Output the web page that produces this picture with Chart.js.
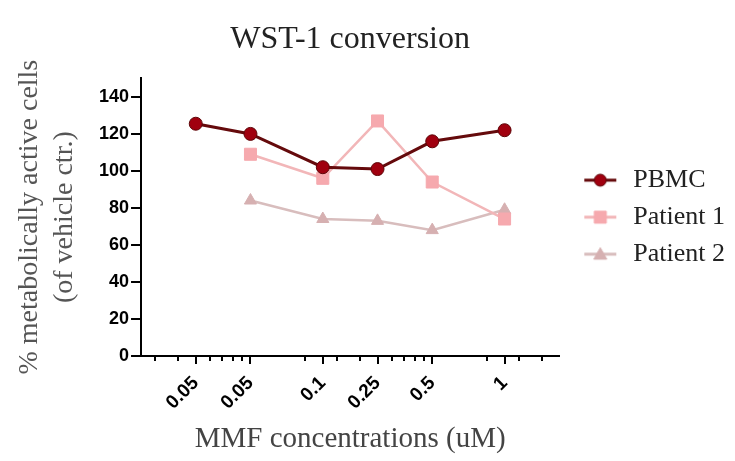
<!DOCTYPE html>
<html lang="en">
<head>
    <meta charset="UTF-8">
    <title>WST-1 conversion</title>
    <script src="https://cdn.jsdelivr.net/npm/chart.js"></script>
    <style>
        html, body { margin: 0; padding: 0; background: #fff; }
        #wrap { width: 735px; height: 461px; }
    </style>
</head>
<body>
    <div id="wrap"><canvas id="wstChart"></canvas></div>

    <script>
        // concentrations as plotted on the log axis, and the labels printed under them
        const doses = [0.05, 0.1, 0.25, 0.5, 1, 2.5];
        const doseLabels = ['0.05', '0.05', '0.1', '0.25', '0.5', '1'];
        const minorDoses = [0.03, 0.04, 0.06, 0.07, 0.08, 0.09, 0.2, 0.3, 0.4, 0.6, 0.7, 0.8, 0.9, 2, 3, 4];
        const yTicks = [0, 20, 40, 60, 80, 100, 120, 140];

        const pbmc = [125.5, 120, 102, 101, 116, 122];
        const patient1 = [null, 109, 96, 127, 94, 74];
        const patient2 = [null, 84, 74, 73, 68, 79];

        function toPoints(values) {
            return values.map((v, i) => ({ x: doses[i], y: v }));
        }

        // legend icon: short line with the marker on it (drawn on the right part of the box)
        function legendIcon(lineColor, fill, stroke, shape) {
            const c = document.createElement('canvas');
            c.width = 46;
            c.height = 18;
            const g = c.getContext('2d');
            g.strokeStyle = lineColor;
            g.lineWidth = 3;
            g.beginPath();
            g.moveTo(12, 9);
            g.lineTo(44, 9);
            g.stroke();
            g.fillStyle = fill;
            g.strokeStyle = stroke;
            g.lineWidth = 1;
            g.beginPath();
            if (shape === 'circle') {
                g.arc(28, 9, 6, 0, Math.PI * 2);
            } else if (shape === 'rect') {
                g.rect(22, 3, 12, 12);
            } else {
                g.moveTo(28, 2.5);
                g.lineTo(34.5, 14);
                g.lineTo(21.5, 14);
                g.closePath();
            }
            g.fill();
            g.stroke();
            return c;
        }

        const icons = [
            legendIcon('#650a0c', '#a0000f', '#5e0508', 'circle'),
            legendIcon('#f2b6b8', '#f6a9ae', '#f6a9ae', 'rect'),
            legendIcon('#d8bdbd', '#d6b0b1', '#d6b0b1', 'triangle')
        ];

        // small minor ticks on the log axis
        const minorTicks = {
            id: 'minorTicks',
            afterDraw(chart) {
                const x = chart.scales.x;
                const ctx = chart.ctx;
                ctx.save();
                ctx.strokeStyle = '#000';
                ctx.lineWidth = 2;
                minorDoses.forEach(d => {
                    const px = Math.round(x.getPixelForValue(d));
                    ctx.beginPath();
                    ctx.moveTo(px, x.top);
                    ctx.lineTo(px, x.top + 5);
                    ctx.stroke();
                });
                ctx.restore();
            }
        };

        const ctx = document.getElementById('wstChart').getContext('2d');
        new Chart(ctx, {
            type: 'line',
            data: {
                datasets: [{
                    label: 'PBMC',
                    data: toPoints(pbmc),
                    borderColor: '#650a0c',
                    backgroundColor: '#a0000f',
                    pointBorderColor: '#5e0508',
                    borderWidth: 3,
                    pointStyle: 'circle',
                    pointRadius: 6.5,
                    pointBorderWidth: 1
                }, {
                    label: 'Patient 1',
                    data: toPoints(patient1),
                    borderColor: '#f2b6b8',
                    backgroundColor: '#f6a9ae',
                    pointBorderColor: '#f6a9ae',
                    borderWidth: 2.5,
                    pointStyle: 'rect',
                    pointRadius: 8.5,
                    pointBorderWidth: 1
                }, {
                    label: 'Patient 2',
                    data: toPoints(patient2),
                    borderColor: '#d8bdbd',
                    backgroundColor: '#d6b0b1',
                    pointBorderColor: '#d6b0b1',
                    borderWidth: 2.5,
                    pointStyle: 'triangle',
                    pointRadius: 7,
                    pointBorderWidth: 1
                }]
            },
            options: {
                responsive: true,
                maintainAspectRatio: false,
                animation: false,
                layout: { padding: { left: 8, right: 0, top: 8, bottom: 0 } },
                plugins: {
                    title: {
                        display: true,
                        fullSize: false,
                        text: 'WST-1 conversion',
                        color: '#222',
                        font: { family: 'Liberation Serif', size: 32, weight: 'normal' },
                        padding: { top: 12, bottom: 20 }
                    },
                    legend: {
                        position: 'right',
                        fullSize: false,
                        labels: {
                            usePointStyle: true,
                            pointStyleWidth: 50,
                            color: '#222',
                            font: { family: 'Liberation Serif', size: 26 },
                            padding: 11,
                            generateLabels: chart => chart.data.datasets.map((ds, i) => ({
                                text: ds.label,
                                pointStyle: icons[i],
                                fontColor: '#222',
                                lineWidth: 0,
                                hidden: false,
                                datasetIndex: i
                            }))
                        }
                    },
                    tooltip: { enabled: false }
                },
                scales: {
                    x: {
                        type: 'logarithmic',
                        min: 0.025,
                        max: 5,
                        afterBuildTicks: axis => {
                            axis.ticks = doses.map(v => ({ value: v }));
                        },
                        ticks: {
                            autoSkip: false,
                            minRotation: 45,
                            maxRotation: 45,
                            color: '#000',
                            font: { family: 'Liberation Sans', size: 19, weight: 'bold' },
                            padding: 8,
                            callback: (value, index) => doseLabels[index]
                        },
                        grid: {
                            drawOnChartArea: false,
                            color: '#000',
                            lineWidth: 2,
                            tickLength: 8
                        },
                        border: { color: '#000', width: 2 },
                        title: {
                            display: true,
                            text: 'MMF concentrations (uM)',
                            color: '#444',
                            font: { family: 'Liberation Serif', size: 29 },
                            padding: { top: 0 }
                        }
                    },
                    y: {
                        min: 0,
                        max: 150,
                        afterBuildTicks: axis => {
                            axis.ticks = yTicks.map(v => ({ value: v }));
                        },
                        ticks: {
                            color: '#000',
                            font: { family: 'Liberation Sans', size: 18, weight: 'bold' },
                            padding: 2
                        },
                        grid: {
                            drawOnChartArea: false,
                            color: '#000',
                            lineWidth: 2,
                            tickLength: 10
                        },
                        border: { color: '#000', width: 2 },
                        title: {
                            display: true,
                            text: ['% metabolically active cells', '(of vehicle ctr.)'],
                            color: '#555',
                            font: { family: 'Liberation Serif', size: 28, lineHeight: 1.25 },
                            padding: { bottom: 15 }
                        }
                    }
                }
            },
            plugins: [minorTicks]
        });
    </script>
</body>
</html>
